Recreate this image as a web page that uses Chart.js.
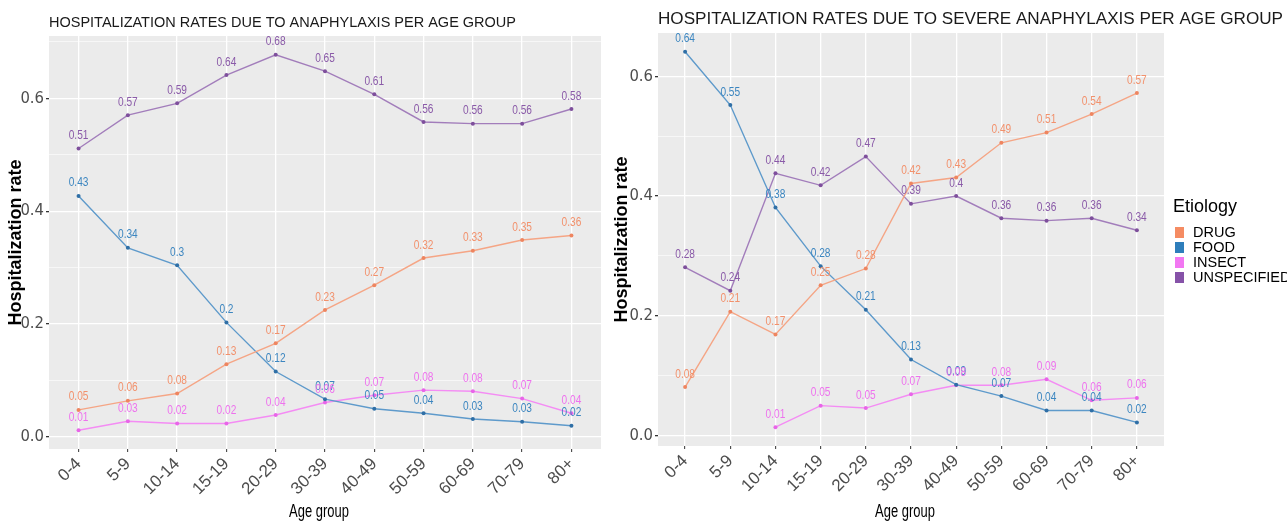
<!DOCTYPE html>
<html>
<head>
<meta charset="utf-8">
<script src="https://cdn.jsdelivr.net/npm/chart.js@4.4.1/dist/chart.umd.min.js"></script>
<style>
  body { margin: 0; background: #fff; width: 1287px; height: 522px; overflow: hidden; position: relative; }
  .panel { position: absolute; top: 0; height: 522px; }
  #leftBox { left: 0; width: 605px; }
  #rightBox { left: 605px; width: 682px; }
  #legend { position: absolute; left: 1173px; top: 193px; font-family: "Liberation Sans", Arial, sans-serif; color: #000; }
  #legend .ttl { font-size: 18px; height: 32px; line-height: 26px; }
  #legend .item { height: 15px; line-height: 15px; font-size: 14.5px; position: relative; padding-left: 20px; }
  #legend .sw { position: absolute; left: 2px; top: 2px; width: 9px; height: 11px; }
</style>
</head>
<body>
<div class="panel" id="leftBox"><canvas id="leftChart"></canvas></div>
<div class="panel" id="rightBox"><canvas id="rightChart"></canvas></div>
<div id="legend"></div>
<script>
// age groups on the x axis
const ageGroups = ['0-4', '5-9', '10-14', '15-19', '20-29', '30-39', '40-49', '50-59', '60-69', '70-79', '80+'];
const etiologies = ['DRUG', 'FOOD', 'INSECT', 'UNSPECIFIED'];

// all anaphylaxis
const allDrug = [0.048, 0.064, 0.077, 0.129, 0.166, 0.225, 0.269, 0.317, 0.330, 0.349, 0.357];
const allFood = [0.427, 0.335, 0.304, 0.203, 0.116, 0.067, 0.050, 0.042, 0.032, 0.027, 0.020];
const allInsect = [0.012, 0.028, 0.024, 0.024, 0.039, 0.061, 0.074, 0.083, 0.081, 0.068, 0.042];
const allUnspecified = [0.511, 0.570, 0.591, 0.641, 0.677, 0.648, 0.607, 0.558, 0.555, 0.555, 0.581];

// severe anaphylaxis
const severeDrug = [0.081, 0.207, 0.169, 0.251, 0.279, 0.421, 0.431, 0.489, 0.506, 0.537, 0.572];
const severeFood = [0.641, 0.552, 0.381, 0.283, 0.210, 0.127, 0.085, 0.066, 0.042, 0.042, 0.022];
const severeInsect = [null, null, 0.014, 0.050, 0.046, 0.069, 0.084, 0.084, 0.094, 0.059, 0.063];
const severeUnspecified = [0.281, 0.242, 0.438, 0.418, 0.466, 0.387, 0.400, 0.363, 0.359, 0.363, 0.343];

const yTickValues = [0, 0.1, 0.2, 0.3, 0.4, 0.5, 0.6, 0.7];

const lineColors = ['#F5A585', '#5E9ACB', '#F48CF4', '#A27DBB'];
const pointColors = ['#EE8560', '#2F6FA6', '#E865E8', '#7E4F9C'];
const labelColors = ['#F2916C', '#3C86C0', '#EE72EE', '#8A5AA8'];
const legendColors = ['#F58C63', '#2E7EBB', '#F277F2', '#8652A8'];

const condensed = '"DejaVu Sans Condensed", sans-serif';
const regular = '"Liberation Sans", Arial, sans-serif';

const panelBg = {
  id: 'panelBg',
  beforeDraw(chart) {
    const a = chart.chartArea, ctx = chart.ctx;
    ctx.save();
    ctx.fillStyle = '#EBEBEB';
    ctx.fillRect(a.left, a.top, a.right - a.left, a.bottom - a.top);
    ctx.restore();
  }
};

// value text above every point, squeezed a bit like the original
const valueLabels = {
  id: 'valueLabels',
  afterDatasetsDraw(chart) {
    const ctx = chart.ctx;
    ctx.save();
    ctx.font = '13px ' + regular;
    ctx.textAlign = 'center';
    ctx.textBaseline = 'middle';
    chart.data.datasets.forEach((ds, i) => {
      const meta = chart.getDatasetMeta(i);
      ctx.fillStyle = labelColors[i];
      meta.data.forEach((pt, j) => {
        const v = ds.data[j].y;
        if (v === null || v === undefined) return;
        ctx.save();
        ctx.translate(pt.x, pt.y - 13);
        ctx.scale(0.78, 1);
        ctx.fillText(String(Math.round(v * 100) / 100), 0, 0);
        ctx.restore();
      });
    });
    ctx.restore();
  }
};

// panel title (left aligned on the panel) and the narrow x axis title
const panelTitle = {
  id: 'panelTitle',
  afterDraw(chart, args, opts) {
    const ctx = chart.ctx, a = chart.chartArea;
    ctx.save();
    ctx.font = opts.font;
    ctx.fillStyle = '#1a1a1a';
    ctx.textBaseline = 'middle';
    ctx.textAlign = 'left';
    const w = ctx.measureText(opts.text).width;
    ctx.translate(a.left, opts.y);
    ctx.scale(opts.width / w, 1);
    ctx.fillText(opts.text, 0, 0);
    ctx.restore();

    ctx.save();
    ctx.font = '18px ' + regular;
    ctx.fillStyle = '#000';
    ctx.textAlign = 'center';
    ctx.textBaseline = 'middle';
    ctx.translate((a.left + a.right) / 2 - 6, 512);
    ctx.scale(0.72, 1);
    ctx.fillText('Age group', 0, 0);
    ctx.restore();
  }
};

function makeChart(id, title, series, cfg) {
  const vals = series.flat().filter(v => v !== null);
  const lo = Math.min(...vals), hi = Math.max(...vals);
  const pad = (hi - lo) * 0.05;
  const yMin = lo - pad, yMax = hi + pad;
  const major = v => Math.round(v * 10) % 2 === 0;

  return new Chart(document.getElementById(id), {
    type: 'line',
    data: {
      datasets: series.map((vals, i) => ({
        label: etiologies[i],
        data: vals.map((v, j) => ({ x: j, y: v })),
        borderColor: lineColors[i],
        borderWidth: 1.4,
        pointRadius: 2,
        pointBorderWidth: 0,
        pointBackgroundColor: pointColors[i],
        spanGaps: false,
        tension: 0
      }))
    },
    options: {
      responsive: true,
      maintainAspectRatio: false,
      animation: false,
      layout: { padding: { top: cfg.top, right: cfg.right, left: 0, bottom: 0 } },
      plugins: {
        legend: { display: false },
        tooltip: { enabled: false },
        panelTitle: { text: title, font: cfg.titleFont, y: cfg.titleY, width: cfg.titleWidth }
      },
      scales: {
        x: {
          type: 'linear',
          min: -0.6,
          max: ageGroups.length - 1 + 0.6,
          afterBuildTicks: s => { s.ticks = ageGroups.map((_, i) => ({ value: i })); },
          afterFit: s => { s.height = cfg.xHeight; },
          ticks: {
            autoSkip: false,
            maxRotation: 45,
            minRotation: 45,
            padding: 2,
            color: '#4D4D4D',
            font: { family: regular, size: 17 },
            callback: v => ageGroups[v]
          },
          grid: { color: '#FFFFFF', lineWidth: 1.3, tickColor: '#333333', tickLength: 3, tickWidth: 1 },
          border: { display: false },
          title: { display: false }
        },
        y: {
          min: yMin,
          max: yMax,
          afterBuildTicks: s => { s.ticks = yTickValues.filter(v => v >= yMin && v <= yMax).map(v => ({ value: v })); },
          afterFit: s => { s.width = cfg.yWidth; },
          ticks: {
            padding: 2,
            color: '#4D4D4D',
            font: { family: condensed, size: 16.5 },
            callback: v => (major(v) ? v.toFixed(1) : '')
          },
          grid: {
            color: '#FFFFFF',
            lineWidth: c => (major(c.tick.value) ? 1.3 : 0.6),
            tickColor: c => (major(c.tick.value) ? '#333333' : 'rgba(0,0,0,0)'),
            tickLength: 3
          },
          border: { display: false },
          title: { display: true, text: 'Hospitalization rate', color: '#000', font: { family: regular, size: 18, weight: 'bold' }, padding: { top: cfg.yTitlePad, bottom: 0 } }
        }
      }
    },
    plugins: [panelBg, valueLabels, panelTitle]
  });
}

makeChart('leftChart', 'HOSPITALIZATION RATES DUE TO ANAPHYLAXIS PER AGE GROUP',
  [allDrug, allFood, allInsect, allUnspecified],
  { top: 36, right: 4, yWidth: 49, xHeight: 73, yTitlePad: 5, titleFont: '14.5px ' + regular, titleY: 23, titleWidth: 467 });

makeChart('rightChart', 'HOSPITALIZATION RATES DUE TO SEVERE ANAPHYLAXIS PER AGE GROUP',
  [severeDrug, severeFood, severeInsect, severeUnspecified],
  { top: 33, right: 123, yWidth: 53, xHeight: 76, yTitlePad: 6, titleFont: '16px ' + regular, titleY: 20, titleWidth: 625 });

// legend
const legend = document.getElementById('legend');
let html = '<div class="ttl">Etiology</div>';
etiologies.forEach((e, i) => {
  html += '<div class="item"><span class="sw" style="background:' + legendColors[i] + '"></span>' + e + '</div>';
});
legend.innerHTML = html;
</script>
</body>
</html>
